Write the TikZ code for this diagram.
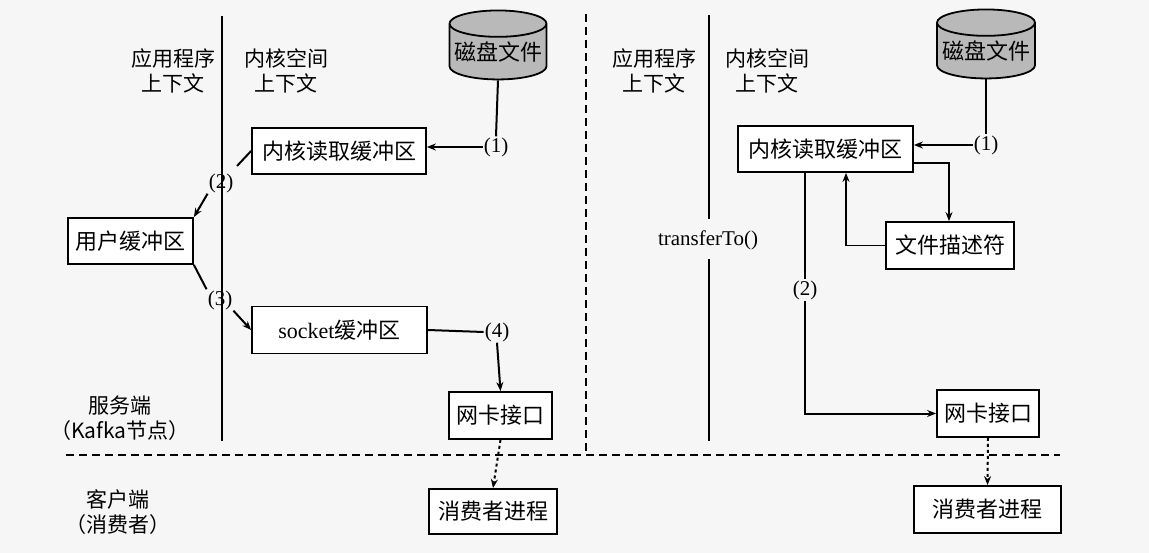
\documentclass[tikz,border=0pt]{standalone}
\usepackage{fontspec}
\setmainfont{Liberation Serif}
\newfontfamily\cjk{Noto Sans CJK SC}
\usetikzlibrary{shapes.geometric,arrows.meta}
\begin{document}
\begin{tikzpicture}[x=1pt,y=-1pt,
  box/.style={draw,line width=1.8pt,inner sep=0pt,font=\cjk\fontsize{22}{24}\selectfont,fill=white},
  lbl/.style={font=\cjk\fontsize{21}{25}\selectfont,align=center,inner sep=0pt},
  num/.style={font=\fontsize{21}{23}\selectfont,inner sep=1pt},
  disk/.style={cylinder,shape border rotate=90,draw,line width=1.8pt,fill=gray!55,aspect=0.3,font=\cjk\fontsize{22}{24}\selectfont,inner sep=0pt},
  ln/.style={line width=2pt},
  arr/.style={line width=2pt,-{Stealth[length=9pt,width=7pt]}},
  darr/.style={line width=2pt,dashed,-{Stealth[length=9pt,width=7pt]}}]
\fill[gray!7] (0,0) rectangle (1149,553);
\useasboundingbox (0,0) rectangle (1149,553);
% ---------- left
\draw[ln] (222,16) -- (222,441);
\node[lbl] (la) at (173,71) {应用程序\\上下文};
\node[lbl] (lk) at (286,71) {内核空间\\上下文};
\node[disk,minimum width=97pt,minimum height=69pt] (d1) at (498,52) {磁盘文件};
\node[box,minimum width=174pt,minimum height=46pt] (kb1) at (339,151) {内核读取缓冲区};
\node[num] (n1) at (496,147) {(1)};
\draw[ln] (d1.south) -- (n1.north);
\draw[arr] (n1.west) -- (kb1.east|-n1.west);
\node[num] (n2) at (221,183) {(2)};
\node[box,minimum width=125pt,minimum height=46pt] (ub) at (130.5,241) {用户缓冲区};
\draw[ln] (kb1.west) -- (237,166);
\draw[arr] (n2.south west) -- (ub.north east);
\node[num] (n3) at (220,300) {(3)};
\node[box,minimum width=175pt,minimum height=47pt] (sb) at (339.5,330) {\rmfamily socket\cjk 缓冲区};
\draw[ln] (ub.south east) -- (n3.north west);
\draw[arr] (n3.south east) -- (sb.west);
\node[num] (n4) at (497,332) {(4)};
\node[box,minimum width=103pt,minimum height=47pt] (nic1) at (500.5,415.5) {网卡接口};
\draw[ln] (sb.east) -- (n4.west);
\draw[arr] (n4.south) -- (nic1.north);
\node[box,minimum width=128pt,minimum height=45pt] (c1) at (493,511.5) {消费者进程};
\draw[darr] (nic1.south) -- (c1.north);
\node[lbl] (srv) at (120,418) {服务端\\（Kafka节点）};
\node[lbl] (cli) at (118,512) {客户端\\（消费者）};
% ---------- divider
\draw[line width=1.8pt,dash pattern=on 8pt off 5pt] (66,455) -- (1060,455);
\draw[line width=1.8pt,dash pattern=on 8pt off 5pt] (586,14) -- (586,452);
% ---------- right
\node[lbl] (ra) at (654,71) {应用程序\\上下文};
\node[lbl] (rk) at (767,71) {内核空间\\上下文};
\node[font=\fontsize{21}{23}\selectfont,inner sep=1pt] (tt) at (708,240) {transferTo()};
\draw[ln] (709,15) -- (709,219);
\draw[ln] (709,259) -- (709,441);
\node[disk,minimum width=98pt,minimum height=69pt] (d2) at (986,51) {磁盘文件};
\node[box,minimum width=175pt,minimum height=46pt] (kb2) at (825.5,149) {内核读取缓冲区};
\node[num] (m1) at (986,145) {(1)};
\draw[ln] (d2.south) -- (m1.north);
\draw[arr] (m1.west) -- (kb2.east|-m1.west);
\node[box,minimum width=128pt,minimum height=47pt] (fd) at (950,245.5) {文件描述符};
\draw[arr,line width=1.4pt] (kb2.east|-0,163) -| (fd.north-|949,0);
\draw[arr,line width=1.4pt] (fd.west) -| (kb2.south-|846,0);
\node[box,minimum width=102pt,minimum height=47pt] (nic2) at (988,413.5) {网卡接口};
\node[num] (m2) at (805,290) {(2)};
\draw[ln] (kb2.south-|805,0) -- (m2.north);
\draw[arr] (m2.south) |- (nic2.west);
\node[box,minimum width=147pt,minimum height=47pt] (c2) at (987.5,509.5) {消费者进程};
\draw[darr] (nic2.south) -- (c2.north);
\end{tikzpicture}
\end{document}
